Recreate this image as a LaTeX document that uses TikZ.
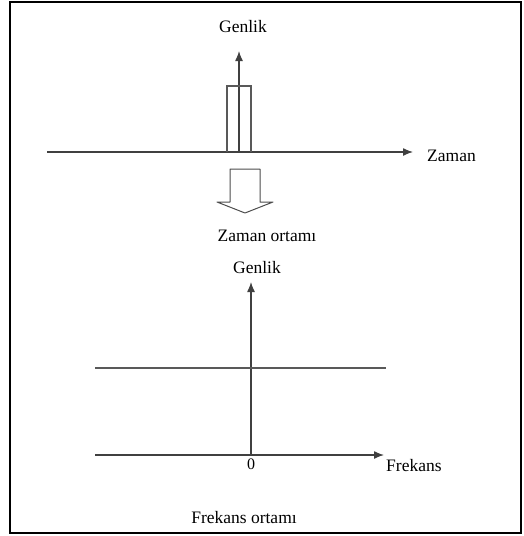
\documentclass[tikz,border=0pt]{standalone}
\usepackage{fontspec}
\setmainfont{Liberation Serif}
\usetikzlibrary{positioning,arrows.meta}
\begin{document}
\begin{tikzpicture}[x=1pt,y=-1pt,node distance=2pt,
    lbl/.style={font=\fontsize{17.5}{20}\selectfont, inner sep=1pt},
    axisline/.style={draw=black!75, line width=1.3pt, -{Latex[length=10pt,width=8pt]}},
    plainline/.style={draw=black!65, line width=1.3pt}]
    \useasboundingbox (0,0) rectangle (523,536);
    \draw[line width=2pt] (10,2) rectangle (521,533);
    % time domain
    \coordinate (t0) at (47,152);
    \coordinate (t1) at (413,152);
    \coordinate (g0) at (239,152);
    \coordinate (g1) at (239,51);
    \draw[axisline] (t0) -- (t1);
    \draw[axisline] (g0) -- (g1);
    \node[lbl, anchor=west] (zaman) at (426,156) {Zaman};
    \node[lbl] (genlik1) at (243,27) {Genlik};
    \draw[plainline] (227,152) -- (227,86) -- (251,86) -- (251,152);
    % hollow arrow
    \draw[draw=black!70, line width=1pt, line join=round]
        (230,169) -- (260,169) -- (260,202) -- (273,202) -- (245,213)
        -- (217,202) -- (230,202) -- cycle;
    \node[lbl] (zortam) at (267,236) {Zaman ortamı};
    % frequency domain
    \coordinate (f0) at (95,455);
    \coordinate (f1) at (384,455);
    \coordinate (a0) at (251,455);
    \coordinate (a1) at (251,282);
    \coordinate (h0) at (95,368);
    \coordinate (h1) at (386,368);
    \draw[axisline] (f0) -- (f1);
    \draw[axisline] (a0) -- (a1);
    \draw[plainline] (h0) -- (h1);
    \node[lbl] (genlik2) at (257,268) {Genlik};
    \node[lbl, font=\fontsize{16}{18}\selectfont, below=3pt of a0] (zero) {0};
    \node[lbl, anchor=west] (frekans) at (385,466) {Frekans};
    \node[lbl] (fortam) at (244,518) {Frekans ortamı};
\end{tikzpicture}
\end{document}
